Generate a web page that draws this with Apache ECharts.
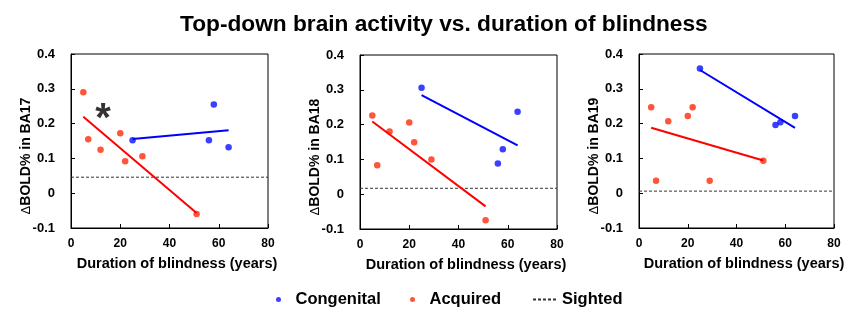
<!DOCTYPE html>
<html>
<head>
<meta charset="utf-8">
<script src="https://cdn.jsdelivr.net/npm/echarts@6/dist/echarts.min.js"></script>
<style>
  html, body { margin: 0; padding: 0; background: #fff; }
  #chart { width: 852px; height: 309px; }
</style>
</head>
<body>
<div id="chart"></div>
<script>
// duration of blindness (years)
const acqYears = [5, 7, 12, 20, 22, 29, 51];
const conYears = [25, 56, 58, 64];

// BA17
const acqBA17 = [0.29, 0.155, 0.125, 0.172, 0.092, 0.106, -0.06];
const conBA17 = [0.152, 0.152, 0.255, 0.132];
const acqFitBA17 = [[5, 0.22], [51, -0.057]];
const conFitBA17 = [[25, 0.156], [64, 0.181]];
const sightedBA17 = 0.046;

// BA18
const acqBA18 = [0.226, 0.083, 0.18, 0.206, 0.149, 0.1, -0.075];
const conBA18 = [0.306, 0.088, 0.129, 0.237];
const acqFitBA18 = [[5, 0.209], [51, -0.035]];
const conFitBA18 = [[25, 0.285], [64, 0.14]];
const sightedBA18 = 0.017;

// BA19
const acqBA19 = [0.247, 0.036, 0.207, 0.222, 0.247, 0.036, 0.093];
const conBA19 = [0.358, 0.196, 0.204, 0.222];
const acqFitBA19 = [[5, 0.188], [51, 0.094]];
const conFitBA19 = [[25, 0.354], [64, 0.188]];
const sightedBA19 = 0.006;

const xTicks = { min: 0, max: 80, interval: 20 };
const yTicks = { min: -0.1, max: 0.4, interval: 0.1 };
// anchor of the significance mark (glyph sits a little above its anchor)
const starPoint = [13, 0.209];

const FONT = 'Liberation Sans, Arial, sans-serif';
const RED = '#ff2a0a';
const BLUE = '#0a10ff';

const panels = [
  { area: 'BA17', acq: acqBA17, con: conBA17, acqFit: acqFitBA17, conFit: conFitBA17, sighted: sightedBA17,
    grid: { left: 71, top: 54, width: 197, height: 174 } },
  { area: 'BA18', acq: acqBA18, con: conBA18, acqFit: acqFitBA18, conFit: conFitBA18, sighted: sightedBA18,
    grid: { left: 360, top: 55, width: 197, height: 174 } },
  { area: 'BA19', acq: acqBA19, con: conBA19, acqFit: acqFitBA19, conFit: conFitBA19, sighted: sightedBA19,
    grid: { left: 639, top: 54, width: 195, height: 174 } }
];

const zip = (xs, ys) => xs.map((x, i) => [x, ys[i]]);

const grid = [], xAxis = [], yAxis = [], series = [];

panels.forEach((p, i) => {
  grid.push(Object.assign({ show: true, borderColor: '#000', borderWidth: 1, backgroundColor: 'transparent' }, p.grid));
  xAxis.push({
    gridIndex: i, type: 'value', min: xTicks.min, max: xTicks.max, interval: xTicks.interval,
    name: 'Duration of blindness (years)', nameLocation: 'middle', nameGap: 28, nameMoveOverlap: false,
    nameTextStyle: { fontFamily: FONT, fontSize: 14.5, fontWeight: 'bold', color: '#000', padding: [0, 0, 0, 15] },
    axisLine: { show: true, onZero: false, lineStyle: { color: '#000', width: 1 } },
    axisTick: { show: true, inside: true, length: 4, lineStyle: { color: '#000' } },
    axisLabel: { fontFamily: FONT, fontSize: 12, fontWeight: 'bold', color: '#000', margin: 10 },
    splitLine: { show: false }
  });
  yAxis.push({
    gridIndex: i, type: 'value', min: yTicks.min, max: yTicks.max, interval: yTicks.interval,
    name: '{d|Δ}BOLD% in ' + p.area, nameLocation: 'middle', nameGap: 38, nameMoveOverlap: false,
    nameTextStyle: {
      fontFamily: FONT, fontSize: 14, fontWeight: 'bold', color: '#000', padding: [0, 30, 0, 0],
      rich: { d: { fontFamily: FONT, fontSize: 13, fontWeight: 'normal', color: '#000' } }
    },
    axisLine: { show: true, onZero: false, lineStyle: { color: '#000', width: 1 } },
    axisTick: { show: true, inside: true, length: 4, lineStyle: { color: '#000' } },
    axisLabel: { fontFamily: FONT, fontSize: 13, fontWeight: 'bold', color: '#000', margin: 16 },
    splitLine: { show: false }
  });

  series.push({
    name: 'Sighted', type: 'line', xAxisIndex: i, yAxisIndex: i,
    data: [[xTicks.min, p.sighted], [xTicks.max, p.sighted]],
    symbol: 'none', silent: true,
    lineStyle: { color: '#333', width: 1, type: [3, 2] }
  });
  series.push({
    name: 'Acquired fit', type: 'line', xAxisIndex: i, yAxisIndex: i,
    data: p.acqFit, symbol: 'none', silent: true,
    lineStyle: { color: '#ff0000', width: 2 }
  });
  series.push({
    name: 'Congenital fit', type: 'line', xAxisIndex: i, yAxisIndex: i,
    data: p.conFit, symbol: 'none', silent: true,
    lineStyle: { color: '#0000ff', width: 2 }
  });
  series.push({
    name: 'Acquired', type: 'scatter', xAxisIndex: i, yAxisIndex: i,
    data: zip(acqYears, p.acq), symbolSize: 6.5,
    itemStyle: { color: RED }
  });
  series.push({
    name: 'Congenital', type: 'scatter', xAxisIndex: i, yAxisIndex: i,
    data: zip(conYears, p.con), symbolSize: 6.5,
    itemStyle: { color: BLUE }
  });
});

// significance asterisk in BA17 panel
series.push({
  name: 'star', type: 'scatter', xAxisIndex: 0, yAxisIndex: 0,
  data: [starPoint], symbolSize: 1, silent: true,
  itemStyle: { color: 'transparent' },
  labelLayout: { hideOverlap: false },
  label: {
    show: true, formatter: '*', position: 'inside',
    fontFamily: FONT, fontSize: 40, fontWeight: 'bold', color: '#000'
  }
});

const legendText = { fontFamily: FONT, fontSize: 16.5, fontWeight: 'bold', color: '#000' };
const legendBase = { top: 286, itemWidth: 24, itemHeight: 5, textStyle: legendText, selectedMode: false };

const chart = echarts.init(document.getElementById('chart'));
chart.setOption({
  animation: false,
  title: {
    text: 'Top-down brain activity vs. duration of blindness',
    left: 175, top: 8,
    textStyle: { fontFamily: FONT, fontSize: 22.7, fontWeight: 'bold', color: '#000' }
  },
  legend: [
    Object.assign({ left: 271, data: [{ name: 'Congenital', icon: 'circle' }] }, legendBase),
    Object.assign({ left: 405, data: [{ name: 'Acquired', icon: 'circle' }] }, legendBase),
    Object.assign({ left: 527, data: ['Sighted'], itemStyle: { opacity: 0 } }, legendBase)
  ],
  grid: grid,
  xAxis: xAxis,
  yAxis: yAxis,
  series: series
});
</script>
</body>
</html>
